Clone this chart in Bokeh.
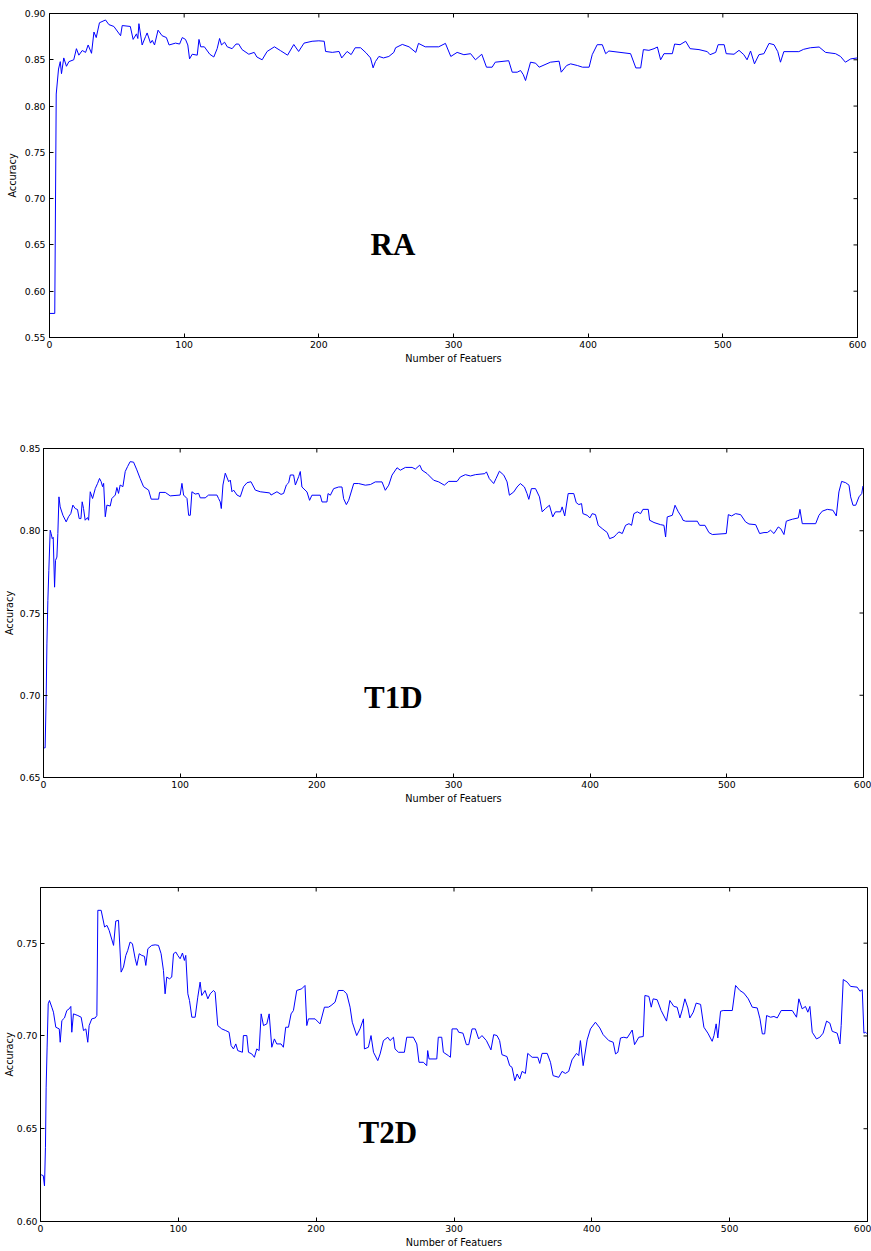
import math
from bokeh.plotting import figure
from bokeh.models import (Range1d, FixedTicker, PrintfTickFormatter, Label, ColumnDataSource)
from bokeh.embed import file_html
from bokeh.resources import INLINE

# Accuracy versus number of selected features, one trace per dataset.
# Each list holds (number of features, accuracy) vertices of the trace.
ra_points = [
    (0, 0.576), (3.9, 0.576), (5, 0.813), (6.7, 0.840), (8, 0.848), (8.9, 0.835), (10.6, 0.852),
    (12.6, 0.843), (14.4, 0.848), (18, 0.850), (20, 0.862), (21.8, 0.855), (24.3, 0.860),
    (26.8, 0.858), (28.7, 0.866), (31.2, 0.857), (33, 0.880), (34.7, 0.874), (37.1, 0.890),
    (41.6, 0.893), (44.1, 0.888), (47.8, 0.886), (52.8, 0.876), (54, 0.887), (60, 0.886),
    (62.1, 0.872), (64.6, 0.878), (65.6, 0.873), (66.4, 0.889), (68.8, 0.866), (71.3, 0.875),
    (72.5, 0.879), (75, 0.868), (76.3, 0.871), (78, 0.866), (80.6, 0.882), (83.6, 0.876),
    (86.8, 0.874), (88.8, 0.866), (93.6, 0.868), (96.6, 0.867), (98.6, 0.874), (101, 0.872),
    (102.7, 0.866), (104, 0.851), (106, 0.856), (109.7, 0.855), (111, 0.872), (112.3, 0.864),
    (115, 0.864), (119, 0.856), (122, 0.853), (124.5, 0.862), (126.3, 0.873), (127.7, 0.866),
    (130, 0.869), (132, 0.864), (135.6, 0.862), (138.5, 0.867), (140.5, 0.867), (143, 0.861),
    (148, 0.856), (152, 0.858), (154, 0.853), (157.9, 0.850), (161.6, 0.859), (167, 0.864),
    (171.4, 0.860), (176.8, 0.855), (181.4, 0.8665), (185, 0.859), (189, 0.868), (195, 0.870),
    (200, 0.8705), (204, 0.870), (205, 0.859), (210, 0.858), (215, 0.859), (217, 0.852),
    (221, 0.859), (224, 0.8556), (227, 0.863), (231, 0.863), (235, 0.8576), (238.4, 0.852),
    (240.3, 0.8413), (242, 0.848), (244.6, 0.8536), (248, 0.852), (252, 0.8536), (255.7, 0.858),
    (257, 0.863), (262, 0.8666), (267, 0.864), (272, 0.858), (274, 0.8677), (279, 0.864),
    (289, 0.864), (294, 0.8677), (298, 0.8536), (302.7, 0.858), (307.7, 0.8555), (312.7, 0.8566),
    (316.3, 0.850), (321, 0.856), (324.5, 0.842), (328.7, 0.842), (331, 0.8474), (341, 0.849),
    (343.6, 0.8366), (347.3, 0.8366), (349.8, 0.8384), (351.8, 0.834), (353.5, 0.8276),
    (357.2, 0.8474), (361, 0.8463), (363.6, 0.842), (372, 0.8474), (378.4, 0.8485), (380, 0.8366),
    (384, 0.8438), (387, 0.8456), (392, 0.8438), (395.8, 0.842), (400.7, 0.842), (403, 0.8555),
    (406.7, 0.8663), (410.5, 0.8663), (413, 0.8566), (415.4, 0.8595), (431.5, 0.8566),
    (435.4, 0.8412), (439, 0.8412), (441, 0.861), (445.1, 0.8602), (448.9, 0.862), (451.4, 0.8638),
    (453.8, 0.850), (456.3, 0.8566), (462.5, 0.8566), (464.2, 0.867), (468.2, 0.8663),
    (472.4, 0.870), (475.7, 0.862), (482.3, 0.861), (488.5, 0.8588), (490.5, 0.8555),
    (494.7, 0.858), (496.5, 0.8663), (501, 0.8663), (502.5, 0.8566), (508.3, 0.856), (512, 0.8602),
    (515.6, 0.8555), (518, 0.850), (520.6, 0.8595), (523.5, 0.8456), (526.8, 0.8555),
    (530.5, 0.8566), (534.3, 0.8677), (538, 0.8663), (540.8, 0.8588), (542.8, 0.8474),
    (545.3, 0.8588), (556.4, 0.8588), (560, 0.8613), (565, 0.863), (571.5, 0.8638),
    (576.3, 0.858), (583.7, 0.8566), (587.4, 0.8536), (591, 0.8474), (595, 0.851), (600, 0.852),
]

t1d_points = [
    (0.5, 0.668), (1.2, 0.668), (2, 0.7008), (2.5, 0.7312), (3.2, 0.7576), (3.9, 0.7759),
    (4.9, 0.8003), (5.6, 0.7983), (6.4, 0.7952), (7.1, 0.796), (8.1, 0.7657), (8.8, 0.782),
    (9.8, 0.784), (10.5, 0.7983), (11.3, 0.8206), (12.2, 0.8145), (14.2, 0.8094), (16.6, 0.8054),
    (18.3, 0.8085), (20, 0.8105), (21.5, 0.8156), (23.2, 0.8135), (24.9, 0.8129), (26.1, 0.8074),
    (27.4, 0.8074), (28.3, 0.8176), (29.3, 0.8135), (30.5, 0.8064), (32.2, 0.808), (33, 0.8064),
    (34.2, 0.8237), (35.9, 0.8196), (37.9, 0.8257), (39.6, 0.8288), (41, 0.8318), (42.2, 0.8298),
    (43.2, 0.8268), (44, 0.8288), (45.2, 0.8085), (46.4, 0.8156), (48.8, 0.815), (50, 0.8196),
    (52.5, 0.8217), (53.7, 0.8263), (54.9, 0.8227), (56.1, 0.8278), (58.1, 0.8268), (59.8, 0.836),
    (61.5, 0.839), (63.4, 0.842), (65.9, 0.8417), (68.3, 0.837), (70.7, 0.8318), (73.2, 0.8268),
    (76.9, 0.8247), (78.8, 0.8192), (84.2, 0.8192), (84.9, 0.8233), (89.1, 0.8233), (92.7, 0.8212),
    (100, 0.8217), (101.3, 0.8288), (102.5, 0.8217), (105, 0.8196), (106.2, 0.8094),
    (107.4, 0.8094), (108.6, 0.8237), (111, 0.8223), (113.5, 0.8227), (114.7, 0.82),
    (118.3, 0.82), (120.8, 0.8217), (126.9, 0.8217), (128.1, 0.8196), (129.3, 0.8176),
    (130.1, 0.8135), (131.3, 0.8278), (133, 0.835), (135.5, 0.8298), (136.7, 0.8308),
    (137.9, 0.8237), (139.1, 0.8247), (141.6, 0.8217), (144, 0.8207), (146.4, 0.8268),
    (148.9, 0.8292), (151.8, 0.8298), (155, 0.8247), (158.6, 0.8237), (165.5, 0.823),
    (166.5, 0.8217), (170.8, 0.8237), (173.8, 0.8221), (175.7, 0.8227), (177.7, 0.8278),
    (179.4, 0.8292), (180.6, 0.8339), (183, 0.8339), (184.3, 0.8278), (186.7, 0.8329),
    (187.9, 0.836), (189.1, 0.8266), (192.8, 0.8236), (194.7, 0.8185), (196.4, 0.8216),
    (202.5, 0.8216), (203.8, 0.8175), (207.4, 0.8175), (208.2, 0.8226), (209.9, 0.8216),
    (212.3, 0.8256), (216, 0.8266), (218.4, 0.8266), (219.6, 0.8195), (221.6, 0.8159),
    (223.3, 0.8185), (227, 0.8287), (230.6, 0.8287), (235.5, 0.8277), (239.2, 0.8281),
    (242.8, 0.8297), (247.7, 0.8297), (250.1, 0.8246), (252.6, 0.8277), (255, 0.8338),
    (258.7, 0.8383), (261.1, 0.8368), (264.8, 0.8385), (269.7, 0.8385), (272.1, 0.8375),
    (275.3, 0.8399), (277, 0.8368), (280.6, 0.8348), (285.5, 0.8307), (289.2, 0.8297),
    (293.3, 0.8277), (296.5, 0.83), (302.6, 0.83), (305, 0.8327), (308.7, 0.8341), (312.4, 0.8333),
    (316, 0.8341), (322.9, 0.8347), (324.1, 0.8358), (326.2, 0.8317), (329.4, 0.8287),
    (331.1, 0.8317), (333.6, 0.8362), (336.8, 0.8338), (339.2, 0.8297), (340.9, 0.8216),
    (344.1, 0.8236), (346.5, 0.8266), (348.9, 0.8287), (351.9, 0.8266), (353.8, 0.8226),
    (355.1, 0.8191), (357, 0.8256), (360, 0.8256), (362.9, 0.8206), (364.9, 0.8115),
    (367.3, 0.8135), (370.2, 0.8155), (372.6, 0.8084), (374.6, 0.8115), (378.3, 0.8115),
    (379.5, 0.8145), (381.4, 0.809), (383.9, 0.8226), (388, 0.8226), (389.8, 0.8171),
    (391.7, 0.8159), (393.7, 0.8165), (394.7, 0.8104), (397.8, 0.8094), (399.8, 0.8078),
    (401.5, 0.8104), (403.9, 0.8098), (405.9, 0.8033), (408.8, 0.8013), (412.5, 0.7989),
    (414.2, 0.7952), (417.4, 0.7962), (419.1, 0.7977), (421, 0.7993), (423.5, 0.7983),
    (425.9, 0.8033), (428.4, 0.8043), (430.3, 0.8033), (432, 0.8104), (434.5, 0.8115),
    (436.9, 0.8104), (438.6, 0.813), (442.5, 0.813), (443.5, 0.8064), (446.7, 0.805),
    (451.5, 0.8037), (454, 0.8033), (455.2, 0.7962), (456.4, 0.8084), (460.1, 0.8094),
    (462.1, 0.8155), (464.5, 0.8115), (466.9, 0.8084), (467.9, 0.8064), (469.9, 0.8058),
    (478.4, 0.8058), (480.1, 0.8033), (484, 0.8033), (486.9, 0.7989), (489.4, 0.7977),
    (499.6, 0.7983), (501.1, 0.8098), (503.5, 0.809), (506.4, 0.8104), (510.1, 0.8098),
    (513.7, 0.8054), (516.2, 0.8041), (521.1, 0.8037), (524, 0.7983), (527.2, 0.7989),
    (529.6, 0.7989), (532, 0.8003), (534.5, 0.7983), (537.6, 0.8023), (539.4, 0.8013),
    (541.8, 0.7977), (543.5, 0.8058), (545.5, 0.8064), (547.9, 0.807), (552.3, 0.8078),
    (553.5, 0.813), (555.2, 0.8043), (565, 0.8043), (567.4, 0.8094), (569.8, 0.8119),
    (573.5, 0.813), (577.6, 0.8125), (580.1, 0.809), (582, 0.8236), (584, 0.83), (587, 0.8292),
    (589.4, 0.8277), (590.6, 0.8206), (592.3, 0.8155), (594.3, 0.8155), (596.7, 0.8206),
    (598.7, 0.8226), (599.6, 0.8272),
]

t2d_points = [
    (0.5, 0.6252), (2, 0.6247), (2.9, 0.6192), (3.6, 0.640), (4.1, 0.6724), (4.8, 0.694),
    (5.6, 0.7173), (6.5, 0.7191), (8.2, 0.7155), (9.4, 0.7128), (11.1, 0.7047), (13.6, 0.7038),
    (14.3, 0.6966), (15.5, 0.7083), (17.4, 0.7097), (19.1, 0.7137), (20.8, 0.7146), (22, 0.7159),
    (22.7, 0.702), (23.9, 0.7119), (27.1, 0.711), (29.5, 0.7101), (31.2, 0.7029), (32.9, 0.7038),
    (34.3, 0.6966), (35.3, 0.7056), (37.2, 0.7092), (39.7, 0.7097), (40.9, 0.711), (41.6, 0.7677),
    (44, 0.7677), (46.5, 0.7587), (48.2, 0.7596), (49.8, 0.7569), (53, 0.7488), (54.6, 0.7619),
    (56.6, 0.7623), (58.5, 0.7344), (60.2, 0.7371), (61.9, 0.7434), (63.3, 0.7461), (65, 0.7506),
    (66.7, 0.7497), (68.7, 0.7416), (69.9, 0.738), (71.6, 0.7443), (73.5, 0.7434), (75.4, 0.7429),
    (76.4, 0.738), (77.9, 0.747), (80.7, 0.7488), (83.2, 0.7491), (85.6, 0.7488), (87.5, 0.7443),
    (89.2, 0.7353), (90.4, 0.7227), (91.6, 0.7317), (93.6, 0.7308), (95.2, 0.7317), (96.5, 0.7443),
    (98.2, 0.7452), (99.6, 0.7434), (101.3, 0.7416), (103, 0.7447), (104.4, 0.7407),
    (105.4, 0.7434), (106.9, 0.7227), (108.1, 0.7191), (109.8, 0.7101), (112.2, 0.7101),
    (114.1, 0.7209), (115.8, 0.729), (117, 0.7218), (119.4, 0.7245), (121.4, 0.72), (123.1, 0.7227),
    (125.5, 0.7245), (126.7, 0.7236), (128.6, 0.7056), (131.5, 0.7038), (134.4, 0.7029),
    (136.8, 0.702), (138.3, 0.6948), (140, 0.693), (141.7, 0.6957), (143.1, 0.6921),
    (146.5, 0.6912), (147.2, 0.7002), (149.7, 0.7002), (150.9, 0.6912), (153.3, 0.6903),
    (155.2, 0.6885), (156.9, 0.693), (158.6, 0.6921), (160.1, 0.7119), (161.8, 0.7056),
    (164.2, 0.7065), (165.9, 0.7119), (167.8, 0.6939), (169.7, 0.6984), (171.4, 0.6957),
    (174.5, 0.6957), (176.2, 0.6939), (177.9, 0.7047), (179.9, 0.7047), (181.8, 0.7119),
    (183.5, 0.7137), (185.9, 0.7245), (189.5, 0.7254), (191.9, 0.7272), (193.2, 0.7056),
    (194.4, 0.7092), (199.2, 0.7092), (202.8, 0.7065), (206, 0.7155), (208.9, 0.7155),
    (210.8, 0.7164), (213.7, 0.7182), (216.1, 0.7245), (219.7, 0.7245), (222.2, 0.7227),
    (224.6, 0.7155), (226.2, 0.7074), (229.4, 0.7002), (231.8, 0.7038), (234.3, 0.7092),
    (235, 0.693), (237.9, 0.6939), (239.8, 0.7002), (241.6, 0.6912), (244.7, 0.6867),
    (246.4, 0.6903), (248.8, 0.6975), (252, 0.6993), (253.6, 0.6975), (256.1, 0.6993),
    (257.2, 0.693), (259.7, 0.6912), (264, 0.6912), (265.7, 0.6993), (270.5, 0.6993),
    (273, 0.6957), (274.6, 0.6858), (277.8, 0.6858), (280.2, 0.684), (280.9, 0.6921),
    (281.9, 0.6876), (287.5, 0.6876), (288.6, 0.6993), (291.1, 0.6993), (292.3, 0.6912),
    (295.9, 0.6894), (297.4, 0.6885), (298.6, 0.7038), (302.2, 0.7038), (303.4, 0.702),
    (306.5, 0.7015), (309, 0.6953), (310.7, 0.6953), (313.1, 0.7038), (315.5, 0.7038),
    (317.9, 0.6984), (320.3, 0.7002), (323.5, 0.6975), (326.8, 0.6925), (328.8, 0.7007),
    (331.2, 0.7002), (333.1, 0.6975), (334.8, 0.6899), (338.4, 0.6889), (340.4, 0.684),
    (342.1, 0.6831), (344.1, 0.6759), (345.8, 0.6795), (347.7, 0.6768), (349.4, 0.6809),
    (351.8, 0.6798), (353.5, 0.6906), (356.7, 0.6885), (360.8, 0.6885), (362.2, 0.6852),
    (363.9, 0.6906), (367.6, 0.6906), (370, 0.6858), (371.9, 0.6786), (376, 0.6777),
    (378.4, 0.6809), (380.8, 0.6798), (383.2, 0.6809), (385.6, 0.6871), (388.9, 0.6906),
    (390.5, 0.6894), (391.7, 0.6975), (393.7, 0.684), (396.6, 0.6979), (399, 0.7038),
    (402.6, 0.7074), (405.8, 0.7043), (408.2, 0.7007), (412.3, 0.6975), (415.5, 0.6966),
    (417.2, 0.6903), (418.9, 0.6912), (420.8, 0.6989), (423.2, 0.6993), (425.6, 0.6989),
    (429.3, 0.7032), (431, 0.6953), (434.1, 0.6993), (437.3, 0.6997), (438.5, 0.7218),
    (441.4, 0.7213), (443.1, 0.7155), (444.5, 0.72), (447.4, 0.7195), (450.3, 0.7137),
    (454.2, 0.708), (456.6, 0.7191), (459.5, 0.7159), (461.9, 0.7155), (463.9, 0.7097),
    (465.8, 0.7146), (467.5, 0.72), (469.7, 0.7151), (471.1, 0.7097), (473.6, 0.7128),
    (475.7, 0.7177), (478.9, 0.717), (481.3, 0.7047), (484.2, 0.7015), (487.3, 0.6971),
    (488.6, 0.7002), (490.2, 0.7065), (491.4, 0.6989), (493.4, 0.7133), (495.3, 0.7137),
    (501.9, 0.7137), (504.3, 0.7272), (507.4, 0.7245), (510.3, 0.7231), (513.5, 0.72),
    (516.4, 0.7155), (520, 0.7151), (522, 0.7092), (523.7, 0.7011), (525.4, 0.7011),
    (526.8, 0.711), (529.7, 0.7101), (532.1, 0.7105), (534.5, 0.7097), (537.4, 0.7137),
    (545.4, 0.7137), (548.5, 0.7101), (550.2, 0.72), (552.6, 0.7146), (555, 0.7159),
    (556.7, 0.7128), (558.2, 0.7159), (559.9, 0.702), (563, 0.6984), (565.4, 0.6993),
    (567.8, 0.7015), (570.3, 0.708), (572.7, 0.7069), (574.4, 0.7025), (578, 0.7015),
    (580, 0.6957), (580.9, 0.7056), (582.4, 0.7304), (585.3, 0.729), (587.7, 0.7267),
    (592.5, 0.7263), (594.5, 0.7241), (596.2, 0.7249), (597.4, 0.7015), (598.6, 0.702),
    (599.8, 0.7011),
]

x_ticks = [0, 100, 200, 300, 400, 500, 600]
ra_y_ticks = [0.55, 0.60, 0.65, 0.70, 0.75, 0.80, 0.85, 0.90]
t1d_y_ticks = [0.65, 0.70, 0.75, 0.80, 0.85]
t2d_y_ticks = [0.60, 0.65, 0.70, 0.75]

TICK_FONT = "DejaVu Sans"


def panel(points, name, name_xy, y_range, y_ticks, height, borders, y_standoffs):
    top, right, bottom, left = borders
    p = figure(width=871, height=height, x_range=Range1d(0, 600), y_range=Range1d(*y_range),
               output_backend="svg", toolbar_location=None,
               min_border_top=top, min_border_right=right,
               min_border_bottom=bottom, min_border_left=left)
    p.grid.visible = False
    p.outline_line_color = "black"
    p.outline_line_width = 1
    p.background_fill_color = "white"
    p.border_fill_color = "white"

    src = ColumnDataSource(dict(n=[pt[0] for pt in points], acc=[pt[1] for pt in points]))
    p.line("n", "acc", source=src, line_color="#0000ff", line_width=1)

    p.xaxis.ticker = FixedTicker(ticks=x_ticks)
    p.yaxis.ticker = FixedTicker(ticks=y_ticks)
    p.yaxis.formatter = PrintfTickFormatter(format="%.2f")
    p.xaxis.axis_label = "Number of Featuers"
    p.yaxis.axis_label = "Accuracy"
    for ax in (p.xaxis[0], p.yaxis[0]):
        ax.major_tick_in = 4
        ax.major_tick_out = 0
        ax.minor_tick_line_color = None
        ax.axis_line_color = "black"
        ax.major_tick_line_color = "black"
        ax.major_label_text_font = TICK_FONT
        ax.major_label_text_font_size = "9.3px"
        ax.major_label_text_color = "black"
        ax.axis_label_text_font = TICK_FONT
        ax.axis_label_text_font_size = "9.7px"
        ax.axis_label_text_font_style = "normal"
        ax.axis_label_text_color = "black"
    p.xaxis.major_label_standoff = 3
    p.xaxis.axis_label_standoff = 2
    p.yaxis.major_label_standoff = y_standoffs[0]
    p.yaxis.axis_label_standoff = y_standoffs[1]

    # mirrored inward ticks on the top and right edges (clipped to the frame)
    y0, y1 = y_range
    p.scatter(x=x_ticks, y=[y1] * len(x_ticks), marker="dash", angle=math.pi / 2,
              size=8, line_color="black", line_width=1)
    p.scatter(x=[600] * len(y_ticks), y=y_ticks, marker="dash",
              size=8, line_color="black", line_width=1)

    p.add_layout(Label(x=name_xy[0], y=name_xy[1], text=name, text_align="center",
                       text_baseline="alphabetic", text_font="Liberation Serif",
                       text_font_style="bold", text_font_size="31px", text_color="black"))
    return p


p1 = panel(ra_points, "RA", (255, 0.650), (0.55, 0.90), ra_y_ticks, 400,
           (13, 14, 63, 49), (4, 4))
p2 = panel(t1d_points, "T1D", (256, 0.6985), (0.65, 0.85), t1d_y_ticks, 440,
           (48, 8, 63, 43), (3, 2))
p3 = panel(t2d_points, "T2D", (252, 0.648), (0.60, 0.78), t2d_y_ticks, 411,
           (47, 4, 30, 40), (3, -1))

# each panel is its own root so that their frames are laid out independently
open("out.html", "w").write(file_html([p1, p2, p3], INLINE))
